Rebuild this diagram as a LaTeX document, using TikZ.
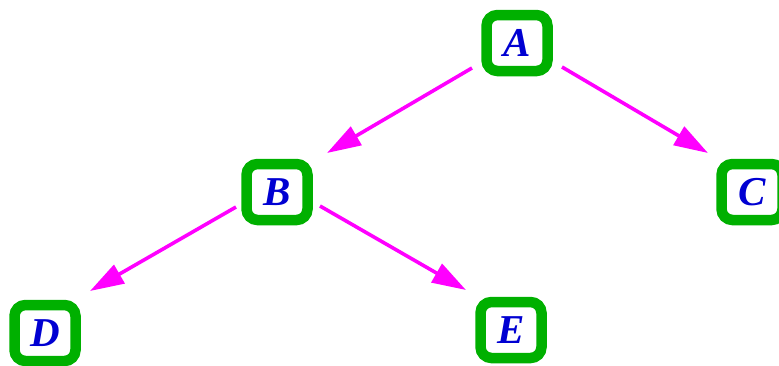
\documentclass[tikz,border=0pt]{standalone}
\usepackage{fontspec}
\newfontfamily\lblfont{Liberation Serif}
\usetikzlibrary{arrows.meta}
\definecolor{boxgreen}{RGB}{0,176,0}
\definecolor{letterblue}{RGB}{0,0,210}
\definecolor{arrmag}{RGB}{255,0,255}
\begin{document}
\begin{tikzpicture}[x=1pt,y=-1pt,
  vbox/.style={draw=boxgreen, line width=10.5pt, rounded corners=11pt, fill=white,
    minimum width=61pt, minimum height=56pt, inner sep=0pt,
    text=letterblue, font=\lblfont\fontsize{41}{42}\selectfont\bfseries\itshape},
  arr/.style={draw=arrmag, line width=3.6pt, -{Triangle[length=34pt,width=21pt]}}]
\useasboundingbox (0,0) rectangle (779,365);
\node[vbox] (A) at (517,43) {A};
\node[vbox] (B) at (277,192) {B};
\node[vbox] (C) at (752,192) {C};
\node[vbox] (D) at (45,333) {D};
\node[vbox] (E) at (511,330) {E};
\draw[arr] ([xshift=-45pt,yshift=-25pt]A.center) -- ([xshift=50pt,yshift=39pt]B.center);
\draw[arr] ([xshift=45pt,yshift=-24pt]A.center) -- ([xshift=-44pt,yshift=39pt]C.center);
\draw[arr] ([xshift=-41pt,yshift=-15pt]B.center) -- ([xshift=45pt,yshift=42pt]D.center);
\draw[arr] ([xshift=43pt,yshift=-14pt]B.center) -- ([xshift=-45pt,yshift=40pt]E.center);
\end{tikzpicture}
\end{document}
